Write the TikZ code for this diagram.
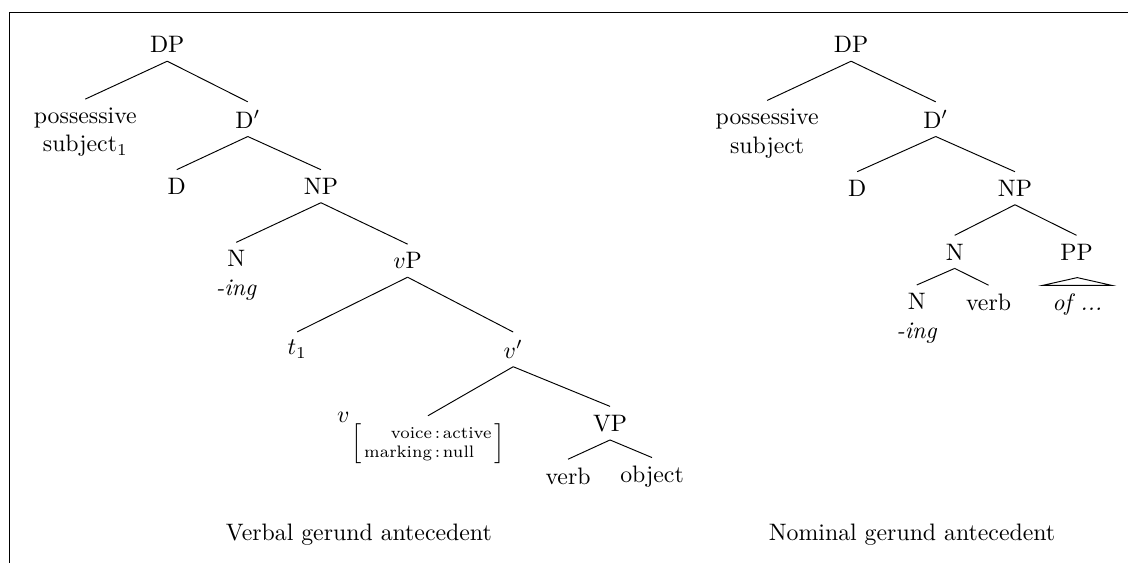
\documentclass[tikz,border=0pt]{standalone}
\usepackage{amsmath}
\usepackage{tikz}
\usetikzlibrary{positioning, calc}

\begin{document}
\begin{tikzpicture}
        [
            cat/.style={inner sep=3.33pt},
            two/.style={cat, align=center},
            avm/.style={cat, font=\scriptsize},
            roof/.style={draw, line join=miter}
        ]
        \useasboundingbox (0,0) rectangle (16.66,-8.31);
        \draw (0.14,-8.31) |- (16.66,-0.18);
        % verbal gerund
        \node (dpL) [cat] at (2.47,-0.66) {DP};
        \node (possL) [two] at (1.26,-1.95) {possessive\\subject$_1$};
        \node (dbarL) [cat] at (3.66,-1.76) {D$'$};
        \node (dL) [cat] at (2.61,-2.75) {D};
        \node (npL) [cat] at (4.74,-2.75) {NP};
        \node (nL) [two] at (3.49,-4.07) {N\\\textit{-ing}};
        \node (vpL) [cat] at (6.02,-3.85) {$v$P};
        \node (tL) [cat] at (4.39,-5.16) {$t_1$};
        \node (vbarL) [cat] at (7.58,-5.16) {$v'$};
        \node (vlabL) [cat] at (5.07,-6.17) {$v$};
        \node (avmL) [avm] at (6.32,-6.56)
            {$\left[\begin{tabular}{@{\hspace{1pt}}r@{\,:\,}l@{\hspace{1pt}}}
                voice & active\\ marking & null
            \end{tabular}\right]$};
        \node (bigvpL) [cat] at (9.01,-6.25) {VP};
        \node (verbL) [cat] at (8.39,-7.03) {verb};
        \node (objL) [cat] at (9.63,-7.04) {object};
        \node (captL) at (5.30,-7.89) {Verbal gerund antecedent};
        \foreach \a/\b in {dpL/possL, dpL/dbarL, dbarL/dL, dbarL/npL,
                           npL/nL, npL/vpL, vpL/tL, vpL/vbarL,
                           vbarL/avmL, vbarL/bigvpL, bigvpL/verbL, bigvpL/objL}
            \draw (\a.south) -- (\b.north);
        % nominal gerund
        \node (dpR) [cat] at (12.57,-0.66) {DP};
        \node (possR) [two] at (11.33,-1.97) {possessive\\subject};
        \node (dbarR) [cat] at (13.82,-1.76) {D$'$};
        \node (dR) [cat] at (12.66,-2.78) {D};
        \node (npR) [cat] at (14.99,-2.78) {NP};
        \node (nR) [cat] at (14.10,-3.72) {N};
        \node (ppR) [cat] at (15.90,-3.72) {PP};
        \node (n2R) [two] at (13.54,-4.70) {N\\\textit{-ing}};
        \node (verbR) [cat] at (14.60,-4.46) {verb};
        \node (ofR) [cat, inner xsep=4pt] at (15.91,-4.50) {\textit{of ...}};
        \coordinate (roofR) at (15.91,-4.10);
        \node (captR) at (13.47,-7.89) {Nominal gerund antecedent};
        \foreach \a/\b in {dpR/possR, dpR/dbarR, dbarR/dR, dbarR/npR,
                           npR/nR, npR/ppR, nR/n2R, nR/verbR}
            \draw (\a.south) -- (\b.north);
        \draw [roof] (roofR) -- (ofR.north west) -- (ofR.north east) -- cycle;
    \end{tikzpicture}
\end{document}
